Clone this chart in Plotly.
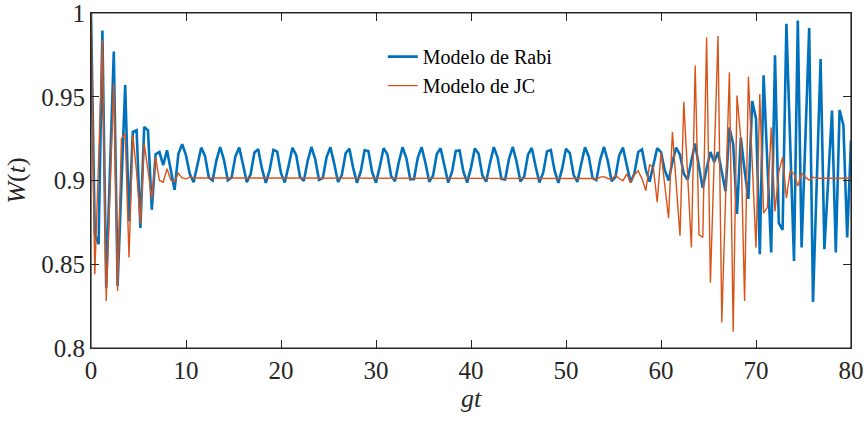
import plotly.graph_objects as go

# Sampling of gt axis (both series share it)
T_START = 0.0
T_STEP = 0.4

rabi = [
    1.000, 0.868, 0.862, 0.9895, 0.836, 0.905, 0.977, 0.837, 0.898, 0.957,
    0.8756, 0.929, 0.930, 0.8716, 0.932, 0.930, 0.8825, 0.9157, 0.917, 0.9092,
    0.918, 0.906, 0.8944, 0.916, 0.9217, 0.9150, 0.9039, 0.8990, 0.9093, 0.9196,
    0.9147, 0.9018, 0.9000, 0.9120, 0.9200, 0.9122, 0.9001, 0.9018, 0.9144, 0.9197,
    0.9095, 0.8990, 0.9037, 0.9167, 0.9187, 0.9069, 0.8986, 0.9061, 0.9183, 0.9172,
    0.9044, 0.8988, 0.9088, 0.9195, 0.9151, 0.9022, 0.8997, 0.9115, 0.9200, 0.9127,
    0.9004, 0.9014, 0.9140, 0.9198, 0.9101, 0.8991, 0.9032, 0.9163, 0.9190, 0.9074,
    0.8986, 0.9056, 0.9180, 0.9175, 0.9048, 0.8987, 0.9083, 0.9193, 0.9156, 0.9026,
    0.8995, 0.9109, 0.9199, 0.9132, 0.9007, 0.9009, 0.9135, 0.9199, 0.9106, 0.8993,
    0.9028, 0.9158, 0.9192, 0.9079, 0.8987, 0.9051, 0.9177, 0.9179, 0.9053, 0.8987,
    0.9077, 0.9191, 0.9160, 0.9030, 0.8993, 0.9104, 0.9199, 0.9137, 0.9010, 0.9006,
    0.9130, 0.9200, 0.9112, 0.8994, 0.9024, 0.9154, 0.9194, 0.9085, 0.8988, 0.9047,
    0.9174, 0.9182, 0.9059, 0.8986, 0.9072, 0.9189, 0.9164, 0.9034, 0.8991, 0.9099,
    0.9198, 0.9142, 0.9014, 0.9003, 0.9125, 0.9200, 0.9117, 0.8996, 0.9020, 0.9150,
    0.9196, 0.9090, 0.8989, 0.9042, 0.9170, 0.9185, 0.9064, 0.8993, 0.9100, 0.9193,
    0.9170, 0.9060, 0.9000, 0.9110, 0.9197, 0.9153, 0.9040, 0.9005, 0.9120, 0.9220,
    0.9080, 0.8955, 0.9070, 0.9170, 0.9110, 0.9170, 0.9050, 0.8936, 0.9316, 0.9217,
    0.8800, 0.9256, 0.9060, 0.8890, 0.9474, 0.9370, 0.8560, 0.9628, 0.9100, 0.8570,
    0.9747, 0.8746, 0.8706, 0.9935, 0.9220, 0.8520, 0.9955, 0.8600, 0.9250, 0.9910,
    0.8275, 0.9000, 0.9725, 0.8590, 0.9000, 0.9418, 0.8570, 0.9420, 0.9330, 0.8660,
    0.9240,
]

jc = [
    1.000, 0.844, 0.912, 0.984, 0.828, 0.893, 0.958, 0.834, 0.925, 0.928,
    0.854, 0.927, 0.905, 0.874, 0.922, 0.906, 0.889, 0.914, 0.900, 0.899,
    0.907, 0.9003, 0.8993, 0.9043, 0.9015, 0.9010, 0.9020, 0.9015, 0.9015, 0.9015,
    0.9015, 0.9015, 0.9015, 0.9015, 0.9015, 0.9015, 0.9015, 0.9015, 0.9015, 0.9015,
    0.9015, 0.9015, 0.9015, 0.9015, 0.9015, 0.9015, 0.9015, 0.9015, 0.9015, 0.9015,
    0.9015, 0.9015, 0.9015, 0.9015, 0.9015, 0.9015, 0.9015, 0.9015, 0.9015, 0.9015,
    0.9015, 0.9015, 0.9015, 0.9015, 0.9015, 0.9015, 0.9015, 0.9015, 0.9015, 0.9015,
    0.9015, 0.9015, 0.9015, 0.9015, 0.9015, 0.9015, 0.9015, 0.9015, 0.9015, 0.9015,
    0.9015, 0.9015, 0.9015, 0.9015, 0.9015, 0.9015, 0.9015, 0.9015, 0.9015, 0.9015,
    0.9015, 0.9015, 0.9015, 0.9015, 0.9015, 0.9015, 0.9015, 0.9015, 0.9015, 0.9015,
    0.9015, 0.9015, 0.9015, 0.9015, 0.9015, 0.9015, 0.9015, 0.9015, 0.9015, 0.9015,
    0.9015, 0.9015, 0.9015, 0.9015, 0.9015, 0.9015, 0.9015, 0.9015, 0.9015, 0.9015,
    0.9015, 0.9015, 0.9015, 0.9015, 0.9015, 0.9015, 0.9015, 0.9015, 0.9015, 0.9015,
    0.9015, 0.9015, 0.9012, 0.9008, 0.9020, 0.9023, 0.9012, 0.9008, 0.9031, 0.9012,
    0.8999, 0.9039, 0.8988, 0.9035, 0.9058, 0.9010, 0.8940, 0.9096, 0.9074, 0.8870,
    0.9167, 0.8970, 0.8775, 0.9290, 0.8980, 0.8670, 0.9470, 0.9030, 0.8600, 0.9686,
    0.8677, 0.8660, 0.9855, 0.8390, 0.9120, 0.9863, 0.8153, 0.8900, 0.9646, 0.8097,
    0.9507, 0.9250, 0.8280, 0.9620, 0.9110, 0.8598, 0.9517, 0.8805, 0.8840, 0.9316,
    0.8815, 0.9050, 0.9140, 0.8894, 0.9058, 0.9040, 0.8967, 0.9043, 0.9020, 0.9003,
    0.9020, 0.9013, 0.9013, 0.9013, 0.9013, 0.9013, 0.9013, 0.9013, 0.9013, 0.9013,
    0.9013,
]

x_ticks = [0, 10, 20, 30, 40, 50, 60, 70, 80]
y_ticks = [0.8, 0.85, 0.9, 0.95, 1.0]
y_tick_text = ["0.8", "0.85", "0.9", "0.95", "1"]

BLUE = "#0072BD"
ORANGE = "#D95319"
AX = "#262626"
FONT = "Liberation Serif, Times New Roman, serif"

fig = go.Figure()
fig.add_trace(go.Scatter(x0=T_START, dx=T_STEP, y=rabi, mode="lines",
                         name="Modelo de Rabi",
                         line=dict(color=BLUE, width=2.6)))
fig.add_trace(go.Scatter(x0=T_START, dx=T_STEP, y=jc, mode="lines",
                         name="Modelo de JC",
                         line=dict(color=ORANGE, width=1.4)))

axis_common = dict(
    showgrid=False, zeroline=False, showline=True, linecolor=AX, linewidth=1,
    mirror="allticks", ticks="inside", ticklen=8, tickwidth=1, tickcolor=AX,
    tickfont=dict(family=FONT, size=25, color=AX), automargin=False,
    ticklabeloverflow="allow",
)

fig.update_xaxes(range=[0, 80], tickvals=x_ticks,
                 title=dict(text="<i>gt</i>", font=dict(family=FONT, size=26, color=AX),
                            standoff=4),
                 **axis_common)
fig.update_yaxes(range=[0.8, 1.0], tickvals=y_ticks, ticktext=y_tick_text,
                 title=dict(text="<i>W</i>(<i>t</i>)", font=dict(family=FONT, size=26, color=AX),
                            standoff=8),
                 **axis_common)

# frame box around plotting area (MATLAB "box on")
fig.add_shape(type="rect", xref="paper", yref="paper", x0=0, y0=0, x1=1, y1=1,
              line=dict(color=AX, width=1.2), fillcolor="rgba(0,0,0,0)", layer="above")

fig.update_layout(
    width=867, height=424,
    margin=dict(l=91, r=16, t=13, b=76, autoexpand=False),
    paper_bgcolor="white", plot_bgcolor="white",
    showlegend=True,
    legend=dict(x=0.384, y=0.928, xanchor="left", yanchor="top",
                bgcolor="rgba(255,255,255,0)", borderwidth=0,
                font=dict(family=FONT, size=20, color="black"),
                tracegroupgap=0, itemwidth=30),
)

fig.write_html(
    "out.html",
    config={"displayModeBar": False},
    post_script="document.body.style.margin='0';document.body.style.overflow='hidden';",
)
